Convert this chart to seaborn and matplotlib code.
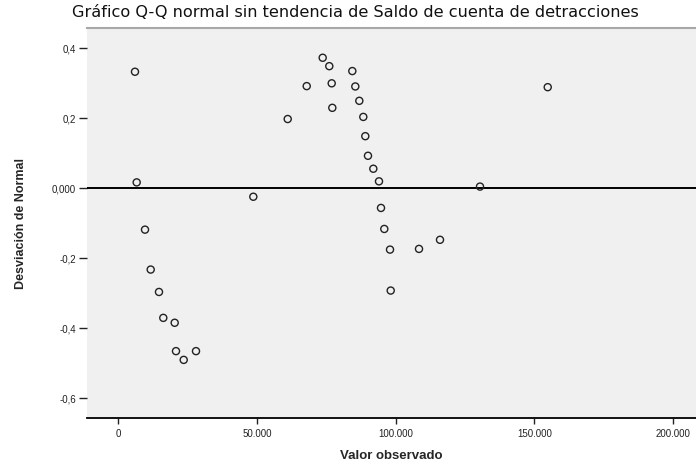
import matplotlib
matplotlib.use("Agg")
import matplotlib.pyplot as plt
import seaborn as sns
import pandas as pd

# Observed values of "Saldo de cuenta de detracciones" and their deviation from normal
valor_observado = [6020, 6630, 9630, 11680, 14670, 16220, 20330, 20800, 23580, 28010,
                   48670, 61070, 67920, 73680, 76060, 76930, 77150, 84360, 85440, 86880,
                   88320, 89040, 90010, 91930, 93980, 94700, 95890, 97950, 98200, 108400,
                   115970, 130390, 154800]
desviacion = [0.331, 0.015, -0.120, -0.234, -0.298, -0.372, -0.386, -0.467, -0.492, -0.467,
              -0.026, 0.196, 0.290, 0.371, 0.347, 0.298, 0.228, 0.333, 0.289, 0.248,
              0.202, 0.147, 0.091, 0.054, 0.018, -0.058, -0.118, -0.177, -0.294, -0.175,
              -0.149, 0.003, 0.287]

x_ticks = [0, 50000, 100000, 150000, 200000]
x_tick_labels = ["0", "50.000", "100.000", "150.000", "200.000"]
y_ticks = [0.4, 0.2, 0.0, -0.2, -0.4, -0.6]
y_tick_labels = ["0,4", "0,2", "0,000", "-0,2", "-0,4", "-0,6"]

df = pd.DataFrame({"Valor observado": valor_observado,
                   "Desviación de Normal": desviacion})

sns.set_style("white", {"axes.facecolor": "#f0f0f0"})
plt.rcParams["font.family"] = ["Liberation Sans", "DejaVu Sans"]

fig = plt.figure(figsize=(6.96, 4.64), dpi=100)
ax = fig.add_axes([0.125, 0.097, 0.875, 0.8405])

sns.scatterplot(data=df, x="Valor observado", y="Desviación de Normal", ax=ax,
                marker="o", s=26, facecolors="none", edgecolor="#222222",
                linewidth=1.0, zorder=3)

ax.axhline(0, color="black", linewidth=1.4, zorder=2)

ax.set_xlim(-11280, 208250)
ax.set_ylim(-0.658, 0.456)

ax.set_xticks(x_ticks)
ax.set_xticklabels(x_tick_labels)
ax.set_yticks(y_ticks)
ax.set_yticklabels(y_tick_labels)
ax.tick_params(axis="both", labelsize=7, colors="#222222", direction="out")
ax.tick_params(axis="x", length=4, width=1, bottom=True, pad=3)
ax.tick_params(axis="y", length=6, width=1, left=True, pad=2)

for side in ("left", "right"):
    ax.spines[side].set_visible(False)
ax.spines["bottom"].set_color("black")
ax.spines["bottom"].set_linewidth(1.3)
ax.spines["top"].set_color("#a8a8a8")
ax.spines["top"].set_linewidth(1.5)

ax.set_xlabel("Valor observado", fontsize=9.5, fontweight="bold", labelpad=8)
ax.set_ylabel("Desviación de Normal", fontsize=9, fontweight="bold", labelpad=18)

fig.text(0.51, 0.99, "Gráfico Q-Q normal sin tendencia de Saldo de cuenta de detracciones",
         ha="center", va="top", fontsize=11.6, family=["DejaVu Sans"], color="#111111")

fig.savefig("out.png", dpi=100, facecolor="white")
